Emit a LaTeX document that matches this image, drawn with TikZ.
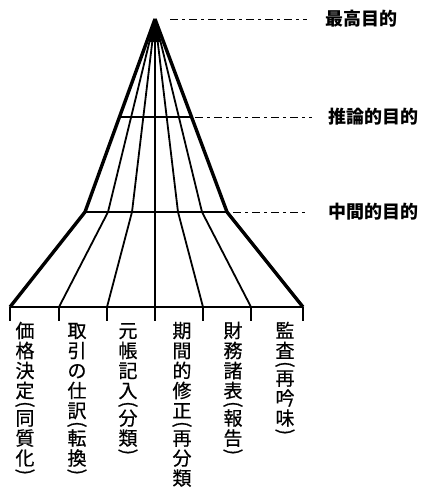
\documentclass[tikz,border=0pt]{standalone}
\usepackage{fontspec}
\newfontfamily\cjk{Noto Sans CJK JP}
\newfontfamily\cjkv[FakeBold=0.6]{Noto Sans CJK JP}
\usetikzlibrary{calc}
\newcommand\vcell[1]{\hbox to 20pt{\hss\vrule width 0pt height 16.5pt depth 3.5pt #1\hss}}
\newcommand\vopen{\hbox to 20pt{\hss\vrule width 0pt height 5.5pt depth 0.5pt\raisebox{7pt}{\rotatebox{-90}{(}}\hss}}
\newcommand\vclose{\hbox to 20pt{\hss\vrule width 0pt height 5.5pt depth 0.5pt\raisebox{7pt}{\rotatebox{-90}{)}}\hss}}
\begin{document}
\begin{tikzpicture}[x=1pt,y=-1pt,
  thick line/.style={line width=3.4pt,line join=round},
  thin line/.style={line width=1.8pt,line join=round},
  hline/.style={line width=1.8pt},
  guide/.style={line width=0.7pt,dash pattern=on 8pt off 4pt on 3pt off 4pt},
  goal/.style={font=\cjk\bfseries\fontsize{18}{18}\selectfont,anchor=west,inner sep=0pt},
  vtext/.style={font=\cjkv\fontsize{19}{20}\selectfont,anchor=north,inner sep=0pt}]
\useasboundingbox (0,0) rectangle (422,490);
\coordinate (A) at (155,19);
\foreach \i/\m/\b in {1/85/10,2/108/59,3/132/107,4/155/155,5/178/203,6/202/251,7/227/303}{
  \coordinate (M\i) at (\m,212);
  \coordinate (B\i) at (\b,307);
  \coordinate (T\i) at (\b,321);
}
\coordinate (U1) at ($(A)!0.508!(M1)$);
\coordinate (U7) at ($(A)!0.508!(M7)$);
% horizontal levels
\draw[hline] (U1) -- (U7);
\draw[hline] (M1) -- (M7);
\draw[hline] (B1) -- (B7);
% fan lines
\foreach \i in {2,...,6}{
  \draw[thin line] (A) -- (M\i) -- (B\i);
}
\draw[thick line] (A) -- (M1) -- (B1);
\draw[thick line] (A) -- (M7) -- (B7);
\fill (A) -- ($(A)!0.12!(M2)$) -- ($(A)!0.12!(M6)$) -- cycle;
% ticks
\foreach \i in {1,...,7}{
  \draw[line width=1.8pt] (B\i) -- (T\i);
}
% goal labels
\node[goal] (g1) at (325,19) {最高目的};
\node[goal] (g2) at (328,117) {推論的目的};
\node[goal] (g3) at (328,212) {中間的目的};
\coordinate (d1) at (170,19);
\coordinate (d2) at (195,117);
\coordinate (d3) at (233,212);
\draw[guide] (d1) -- ([xshift=-18pt]g1.west);
\draw[guide] (d2) -- ([xshift=-16pt]g2.west);
\draw[guide] (d3) -- ([xshift=-20pt]g3.west);
% vertical labels
\node[vtext] (v1) at (25,321) {\vbox{\offinterlineskip\vcell{価}\vcell{格}\vcell{決}\vcell{定}\vopen\vcell{同}\vcell{質}\vcell{化}\vclose}};
\node[vtext] (v2) at (77,321) {\vbox{\offinterlineskip\vcell{取}\vcell{引}\vcell{の}\vcell{仕}\vcell{訳}\vopen\vcell{転}\vcell{換}\vclose}};
\node[vtext] (v3) at (128,321) {\vbox{\offinterlineskip\vcell{元}\vcell{帳}\vcell{記}\vcell{入}\vopen\vcell{分}\vcell{類}\vclose}};
\node[vtext] (v4) at (182,321) {\vbox{\offinterlineskip\vcell{期}\vcell{間}\vcell{的}\vcell{修}\vcell{正}\vopen\vcell{再}\vcell{分}\vcell{類}}};
\node[vtext] (v5) at (233,321) {\vbox{\offinterlineskip\vcell{財}\vcell{務}\vcell{諸}\vcell{表}\vopen\vcell{報}\vcell{告}\vclose}};
\node[vtext] (v6) at (285,321) {\vbox{\offinterlineskip\vcell{監}\vcell{査}\vopen\vcell{再}\vcell{吟}\vcell{味}\vclose}};
\end{tikzpicture}
\end{document}
